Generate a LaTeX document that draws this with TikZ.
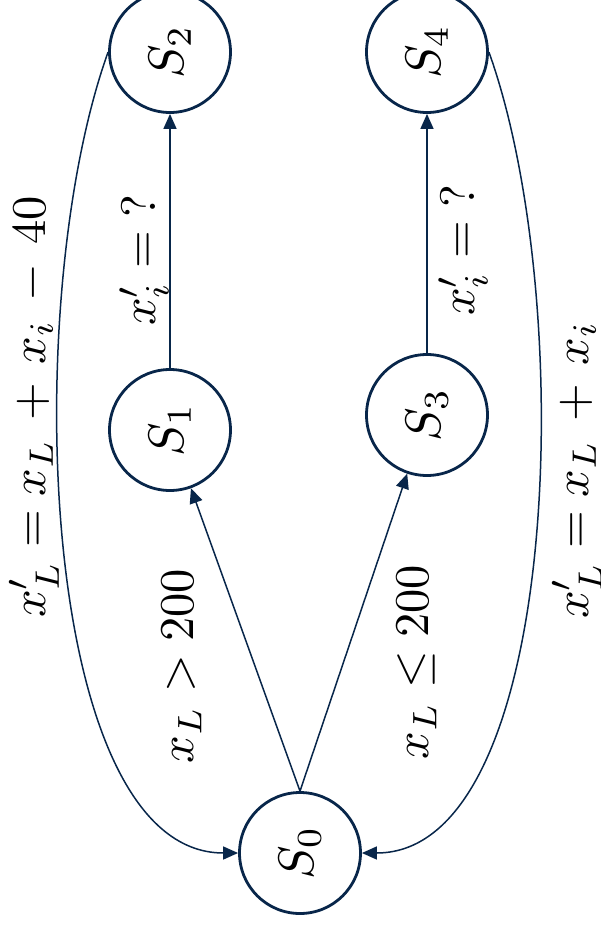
\documentclass[tikz,border=0pt]{standalone}
\usepackage{graphicx}
\usetikzlibrary{arrows.meta}
\definecolor{navy}{RGB}{8,38,74}
\newcommand{\bigst}[1]{\scalebox{5}{$#1$}}
\newcommand{\biglab}[1]{\scalebox{4.85}{$#1$}}
\begin{document}
\begin{tikzpicture}[x=1pt,y=-1pt,
  state/.style={circle,draw=navy,line width=2.8pt,minimum size=121pt,inner sep=0pt,rotate=90},
  edge/.style={draw=navy,line width=1.5pt,-{Triangle[length=15pt,width=13pt]}},
  lab/.style={rotate=90,inner sep=0pt}]
\useasboundingbox (0,0) rectangle (601,930);
\node[state] (S0) at (300,853) {\bigst{S_0}};
\node[state] (S1) at (170,430) {\bigst{S_1}};
\node[state] (S2) at (170,52) {\bigst{S_2}};
\node[state] (S3) at (427,415) {\bigst{S_3}};
\node[state] (S4) at (427,52) {\bigst{S_4}};
\draw[edge] (S0.east) -- (S1);
\draw[edge] (S0.east) -- (S3);
\draw[edge] (S1) -- (S2);
\draw[edge] (S3) -- (S4);
\draw[edge] (S2.north) .. controls +(-89,248) and +(-200,0) .. (S0.north);
\draw[edge] (S4.south) .. controls +(89,248) and +(200,0) .. (S0.south);
\node[lab] (l1) at (34,407) {\biglab{x'_L = x_L \,+\, x_i \,-\, 40}};
\node[lab] (l2) at (144,260) {\biglab{x'_i = {?}}};
\node[lab] (l3) at (463,250) {\biglab{x'_i = {?}}};
\node[lab] (l4) at (182,666) {\biglab{x_L > 200}};
\node[lab] (l5) at (417,662) {\biglab{x_L \leq 200}};
\node[lab] (l6) at (577,470) {\biglab{x'_L = x_L \,+\, x_i}};
\end{tikzpicture}
\end{document}
